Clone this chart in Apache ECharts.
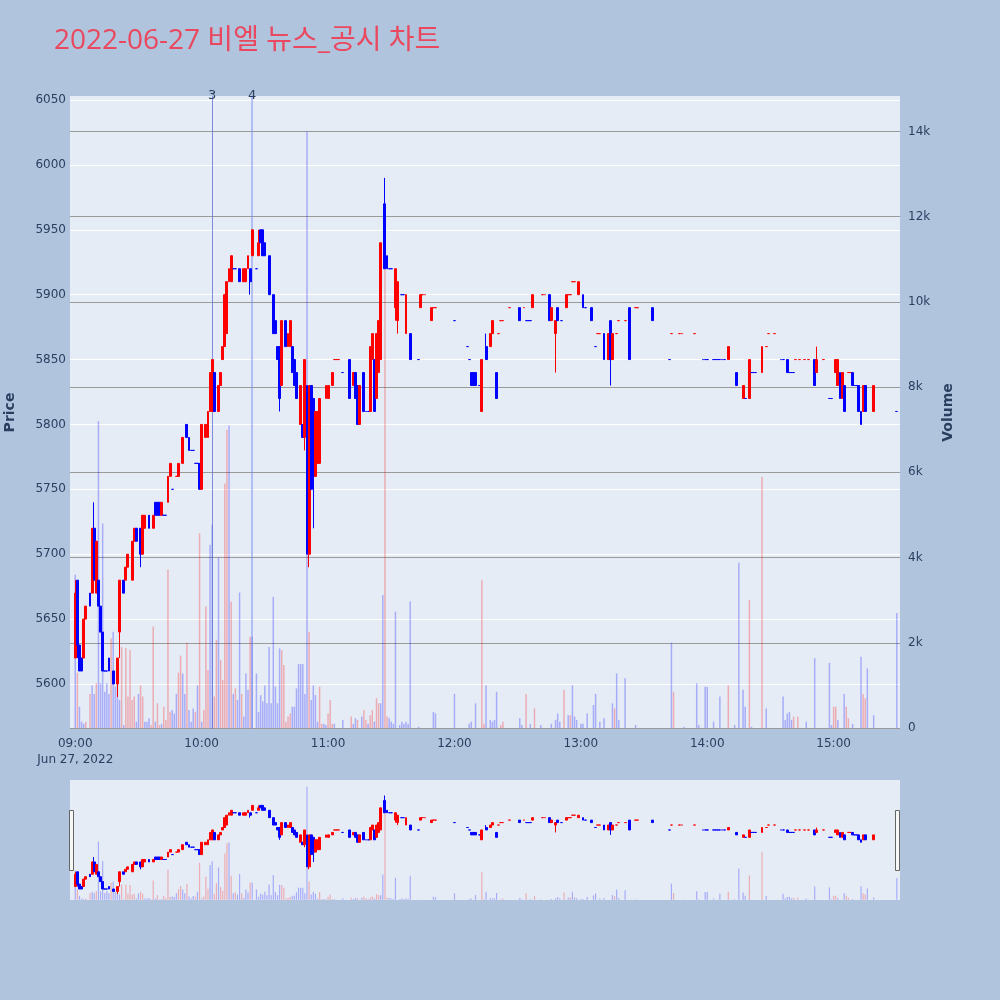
<!DOCTYPE html>
<html><head><meta charset="utf-8">
<script src="https://cdn.jsdelivr.net/npm/echarts@6/dist/echarts.min.js"></script>
<style>html,body{margin:0;padding:0;background:#b0c4de;}#c{width:1000px;height:1000px;}</style>
</head><body><div id="c"></div>
<script>
const chartTitle = '2022-06-27 비엘 뉴스_공시 차트';
const axisStart = '08:58', axisEnd = '15:31';
const priceTicks = [5600,5650,5700,5750,5800,5850,5900,5950,6000,6050];
const volTicks = [0,2000,4000,6000,8000,10000,12000,14000];
const newsTimes = ['10:05','10:24'];
const newsLabels = ['3','4'];

const candleTimes = [
'09:00','09:01','09:02','09:03','09:04','09:05','09:07','09:08','09:09','09:10','09:11','09:12','09:13','09:14','09:15','09:16','09:18','09:20','09:21','09:23','09:24','09:25','09:27','09:28','09:29','09:31','09:32','09:33','09:35','09:37','09:38','09:39','09:40','09:41','09:42','09:43','09:44','09:45','09:46','09:48','09:49','09:51','09:53','09:54','09:55','09:56','09:57','09:58','09:59',
'10:00','10:02','10:03','10:04','10:05','10:06','10:08','10:09','10:10','10:11','10:12','10:13','10:14','10:15','10:16','10:18','10:20','10:21','10:22','10:23','10:24','10:26','10:27','10:28','10:29','10:30','10:32','10:34','10:35','10:36','10:37','10:38','10:40','10:41','10:42','10:43','10:44','10:45','10:47','10:48','10:49','10:50','10:51','10:52','10:53','10:54','10:55','10:56','10:59',
'11:00','11:02','11:03','11:04','11:05','11:07','11:10','11:12','11:13','11:14','11:15','11:17','11:18','11:19','11:20','11:21','11:22','11:23','11:24','11:25','11:27','11:28','11:29','11:30','11:32','11:33','11:35','11:36','11:37','11:39','11:43','11:44','11:45','11:46','11:49','11:50','11:51',
'12:00','12:06','12:07','12:08','12:09','12:10','12:12','12:13','12:15','12:17','12:18','12:20','12:21','12:22','12:23','12:26','12:31','12:33','12:34','12:35','12:36','12:37','12:42','12:43','12:45','12:46','12:48','12:49','12:51','12:53','12:54','12:55','12:56','12:57','12:59',
'13:01','13:02','13:05','13:07','13:08','13:09','13:11','13:13','13:14','13:15','13:17','13:18','13:21','13:23','13:26','13:27','13:34','13:42','13:43','13:47','13:48','13:54','13:58','13:59',
'14:00','14:03','14:04','14:05','14:06','14:07','14:08','14:10','14:14','14:17','14:18','14:20','14:21','14:22','14:23','14:26','14:28','14:29','14:32','14:35','14:36','14:38','14:39','14:40','14:41','14:42','14:44','14:46','14:48','14:51','14:52','14:55','14:58','14:59',
'15:01','15:02','15:03','15:04','15:05','15:07','15:08','15:09','15:10','15:11','15:12','15:13','15:14','15:15','15:19','15:30'];
const candleOpen = [
5620,5680,5630,5620,5620,5650,5670,5670,5720,5670,5680,5660,5640,5610,5610,5620,5610,5600,5640,5680,5680,5690,5680,5710,5720,5720,5700,5720,5730,5720,5740,5740,5740,5730,5730,5730,5740,5760,5750,5760,5760,5770,5800,5790,5780,5780,5770,5770,5770,
5750,5790,5790,5810,5810,5840,5810,5830,5850,5860,5870,5910,5910,5920,5920,5920,5910,5910,5920,5920,5930,5920,5930,5950,5950,5940,5930,5900,5880,5860,5860,5830,5880,5860,5860,5860,5850,5840,5800,5800,5790,5830,5700,5830,5820,5760,5770,5770,5820,
5820,5830,5850,5850,5850,5840,5850,5830,5840,5830,5800,5840,5810,5810,5810,5850,5850,5820,5840,5850,5970,5930,5920,5920,5890,5880,5900,5900,5870,5870,5850,5890,5900,5900,5880,5890,5890,
5880,5860,5850,5840,5840,5840,5830,5810,5860,5860,5870,5840,5870,5880,5880,5890,5890,5890,5880,5880,5880,5890,5900,5900,5900,5880,5870,5890,5880,5890,5900,5900,5910,5910,5900,
5900,5890,5890,5860,5870,5870,5870,5850,5880,5850,5870,5880,5880,5890,5890,5890,5890,5850,5870,5870,5870,5870,5850,5850,
5850,5850,5850,5850,5850,5850,5850,5850,5840,5820,5820,5820,5840,5840,5840,5840,5860,5870,5870,5850,5850,5850,5840,5840,5840,5850,5850,5850,5850,5850,5840,5850,5820,5820,
5840,5830,5840,5820,5830,5840,5840,5840,5830,5830,5830,5810,5810,5830,5810,5810];
const candleClose = [
5670,5630,5610,5610,5650,5660,5660,5720,5680,5710,5660,5640,5610,5610,5610,5610,5600,5620,5680,5670,5690,5700,5710,5720,5710,5700,5730,5730,5720,5730,5730,5730,5730,5740,5730,5730,5760,5770,5750,5760,5770,5790,5790,5780,5780,5780,5770,5770,5750,
5800,5800,5810,5840,5850,5810,5830,5840,5860,5900,5910,5920,5930,5920,5920,5910,5920,5920,5930,5910,5950,5920,5940,5940,5930,5930,5900,5870,5870,5850,5820,5880,5860,5870,5880,5840,5830,5820,5830,5790,5850,5700,5830,5750,5760,5810,5810,5820,5830,
5830,5840,5850,5850,5850,5840,5820,5840,5820,5800,5830,5810,5810,5810,5860,5870,5810,5870,5880,5940,5920,5920,5920,5920,5920,5910,5900,5900,5900,5850,5850,5900,5900,5900,5890,5890,5890,
5880,5860,5850,5830,5830,5830,5830,5850,5850,5870,5880,5820,5870,5880,5880,5890,5880,5890,5880,5880,5880,5900,5900,5900,5880,5890,5880,5880,5880,5900,5900,5900,5910,5910,5910,
5890,5890,5880,5860,5870,5870,5850,5870,5850,5870,5870,5880,5880,5850,5890,5890,5880,5850,5870,5870,5870,5870,5850,5850,
5850,5850,5850,5850,5850,5850,5850,5860,5830,5830,5820,5850,5840,5840,5840,5860,5860,5870,5870,5850,5850,5840,5840,5840,5840,5850,5850,5850,5850,5830,5850,5850,5820,5820,
5850,5850,5820,5840,5810,5840,5840,5830,5830,5830,5810,5800,5830,5810,5830,5810];
const candleLow = [
5620,5620,5610,5610,5620,5650,5660,5670,5680,5670,5660,5640,5610,5610,5610,5610,5600,5590,5620,5670,5680,5690,5680,5710,5710,5690,5700,5720,5720,5720,5730,5730,5730,5730,5730,5730,5740,5760,5750,5760,5760,5770,5790,5780,5780,5780,5770,5770,5750,
5750,5790,5790,5810,5810,5810,5810,5830,5850,5860,5870,5910,5910,5920,5920,5910,5910,5910,5920,5900,5930,5920,5930,5940,5930,5930,5900,5870,5870,5850,5810,5830,5860,5860,5860,5840,5830,5820,5800,5790,5780,5700,5690,5750,5720,5760,5770,5770,5820,
5820,5830,5850,5850,5850,5840,5820,5830,5820,5800,5800,5810,5810,5810,5810,5850,5810,5820,5840,5850,5920,5920,5920,5920,5880,5870,5900,5900,5870,5850,5850,5890,5900,5900,5880,5890,5890,
5880,5860,5850,5830,5830,5830,5830,5810,5850,5860,5870,5820,5870,5880,5880,5890,5880,5890,5880,5880,5880,5890,5900,5900,5880,5880,5840,5880,5880,5890,5900,5900,5910,5910,5900,
5890,5890,5880,5860,5870,5870,5850,5850,5830,5850,5870,5880,5880,5850,5890,5890,5880,5850,5870,5870,5870,5870,5850,5850,
5850,5850,5850,5850,5850,5850,5850,5850,5830,5820,5820,5820,5840,5840,5840,5840,5860,5870,5870,5850,5850,5840,5840,5840,5840,5850,5850,5850,5850,5830,5840,5850,5820,5820,
5840,5830,5820,5820,5810,5840,5840,5830,5830,5830,5810,5800,5810,5810,5810,5810];
const candleHigh = [
5680,5680,5630,5620,5650,5660,5670,5720,5740,5710,5680,5660,5640,5610,5610,5620,5610,5620,5680,5680,5690,5700,5710,5720,5720,5720,5730,5730,5730,5730,5740,5740,5740,5740,5730,5730,5760,5770,5750,5760,5770,5790,5800,5790,5780,5780,5770,5770,5770,
5800,5800,5810,5840,5850,5840,5830,5840,5860,5900,5910,5920,5930,5920,5920,5920,5920,5920,5930,5920,5950,5920,5950,5950,5950,5940,5930,5900,5880,5860,5860,5880,5880,5870,5880,5860,5850,5840,5830,5800,5850,5830,5830,5830,5820,5810,5810,5820,5830,
5830,5840,5850,5850,5850,5840,5850,5840,5840,5830,5830,5840,5810,5810,5860,5870,5850,5870,5880,5940,5990,5930,5920,5920,5920,5910,5900,5900,5900,5870,5850,5900,5900,5900,5890,5890,5890,
5880,5860,5850,5840,5840,5840,5830,5850,5870,5870,5880,5840,5870,5880,5880,5890,5890,5890,5880,5880,5880,5900,5900,5900,5900,5890,5880,5890,5880,5900,5900,5900,5910,5910,5910,
5900,5890,5890,5860,5870,5870,5870,5870,5880,5870,5870,5880,5880,5890,5890,5890,5890,5850,5870,5870,5870,5870,5850,5850,
5850,5850,5850,5850,5850,5850,5850,5860,5840,5830,5820,5850,5840,5840,5840,5860,5860,5870,5870,5850,5850,5850,5840,5840,5840,5850,5850,5850,5850,5850,5860,5850,5820,5820,
5850,5850,5840,5840,5830,5840,5840,5840,5830,5830,5830,5810,5830,5830,5830,5810];

const volTimes = [
'09:00','09:01','09:02','09:03','09:04','09:05','09:07','09:08','09:09','09:10','09:11','09:12','09:13','09:14','09:15','09:16','09:17','09:18','09:19','09:20','09:21','09:22','09:23','09:24','09:25','09:26','09:27','09:28','09:29','09:30','09:31','09:32','09:33','09:34','09:35','09:36','09:37','09:38','09:39','09:40','09:41','09:42','09:43','09:44','09:45','09:46','09:47','09:48','09:49','09:50','09:51','09:52','09:53','09:54','09:55','09:56','09:57','09:58','09:59',
'10:00','10:01','10:02','10:03','10:04','10:05','10:06','10:07','10:08','10:09','10:10','10:11','10:12','10:13','10:14','10:15','10:16','10:17','10:18','10:19','10:20','10:21','10:22','10:23','10:24','10:26','10:27','10:28','10:29','10:30','10:31','10:32','10:33','10:34','10:35','10:36','10:37','10:38','10:39','10:40','10:41','10:42','10:43','10:44','10:45','10:46','10:47','10:48','10:49','10:50','10:51','10:52','10:53','10:54','10:55','10:56','10:57','10:58','10:59',
'11:00','11:01','11:02','11:03','11:07','11:11','11:12','11:13','11:14','11:16','11:17','11:18','11:19','11:20','11:21','11:22','11:23','11:24','11:25','11:26','11:27','11:28','11:29','11:30','11:31','11:32','11:34','11:35','11:36','11:37','11:38','11:39','11:43','11:50','11:51',
'12:00','12:07','12:08','12:10','12:13','12:14','12:15','12:17','12:18','12:19','12:20','12:22','12:23','12:31','12:32','12:34','12:36','12:38','12:41','12:46','12:48','12:49','12:50','12:52','12:54','12:55','12:56','12:57','12:58',
'13:00','13:01','13:03','13:06','13:07','13:09','13:11','13:15','13:16','13:17','13:18','13:21','13:26','13:43','13:44','13:49','13:55','13:56','13:59',
'14:00','14:03','14:06','14:10','14:13','14:15','14:17','14:18','14:20','14:21','14:26','14:28','14:36','14:37','14:38','14:39','14:40','14:41','14:43','14:47','14:51','14:58','14:59',
'15:00','15:01','15:02','15:05','15:06','15:07','15:09','15:13','15:14','15:15','15:16','15:19','15:30'];
const volValues = [
3600,1300,500,150,100,150,800,1000,800,1050,7200,1050,4800,850,1050,800,2100,2260,970,1500,660,1900,70,1870,740,1830,660,740,150,800,1000,740,150,150,230,70,2380,150,580,70,100,500,190,3720,380,420,340,800,1300,1700,1280,800,2000,420,150,460,380,1000,4570,
150,420,2850,1360,4300,4770,740,2070,4000,1600,1130,5740,7000,7100,2970,800,930,660,3180,800,270,1280,900,2140,2140,1280,380,770,620,1000,580,1900,580,3080,970,580,1870,1830,1480,150,270,340,500,500,930,1500,1500,1500,800,14000,2260,660,1000,770,150,970,100,100,70,
340,660,100,100,190,270,100,230,190,270,420,190,100,300,420,150,700,580,580,3120,11500,270,230,150,100,2730,70,150,100,150,100,2970,30,380,340,
800,100,150,580,3470,100,1000,190,150,190,850,70,150,230,70,800,100,460,70,100,190,340,150,900,300,300,1000,270,190,
100,100,340,540,800,150,230,580,460,1280,190,1170,70,2000,850,30,1050,70,970,
970,150,740,1000,70,3880,900,500,3000,30,5900,460,740,190,340,380,190,270,270,150,1640,1530,70,
500,500,190,800,500,230,100,1670,800,700,1400,300,2700];
// u = buy-side (red), d = sell-side (blue)
const volSides = (
'duddduuddudddddd' + 'udddduduuu' + 'uudduudddu' + 'uduuduuuud' + 'dduudduddd' + 'udu' +
'duuudduudu' + 'uuudududdu' + 'dddud' + 'ddddd' + 'ddddddduuu' + 'uudddddddd' + 'udddduudd' +
'uuudd' + 'uddud' + 'uuduu' + 'duudd' + 'uuddd' + 'ddddd' + 'ddddd' +
'ddddu' + 'udddd' + 'duudd' + 'ududd' + 'dddud' + 'uddd' +
'dddddddd' + 'u' + 'ddddd' + 'u' + 'dddd' +
'dddu' + 'dddd' + 'udud' + 'ddddd' + 'uu' + 'dddd' +
'uudduudduuddd').split('');

const RED = '#ff0000', BLUE = '#0000ff';
const FONT = 'DejaVu Sans, Noto Sans CJK KR, sans-serif';
const LABEL_COLOR = '#2a3f5f';

// category axis: one slot per minute
const categories = [];
(function(){
  const toMin = s => +s.slice(0,2)*60 + +s.slice(3,5);
  for (let m = toMin(axisStart); m <= toMin(axisEnd); m++) {
    categories.push(String(Math.floor(m/60)).padStart(2,'0') + ':' + String(m%60).padStart(2,'0'));
  }
})();
const idxOf = t => categories.indexOf(t);

const candleData = categories.map(() => '-');
let prevC = null, prevUp = true;
candleTimes.forEach((t, k) => {
  const o = candleOpen[k], c = candleClose[k];
  let up;
  if (c > o) up = true; else if (c < o) up = false;
  else up = prevC === null ? true : (c > prevC ? true : (c < prevC ? false : prevUp));
  prevC = c; prevUp = up;
  const col = up ? RED : BLUE;
  candleData[idxOf(t)] = {value: [o, c, candleLow[k], candleHigh[k]],
    itemStyle: {color: col, color0: col, borderColor: col, borderColor0: col}};
});
const volData = categories.map(() => '-');
volTimes.forEach((t, k) => {
  volData[idxOf(t)] = {value: volValues[k],
    itemStyle: {color: volSides[k] === 'u' ? 'rgba(255,0,0,0.27)' : 'rgba(0,0,255,0.27)'}};
});

const problems = [];
[candleOpen, candleClose, candleLow, candleHigh].forEach((a,i)=>{ if (a.length !== candleTimes.length) problems.push('c'+i+':'+a.length+'/'+candleTimes.length); });
if (volValues.length !== volTimes.length) problems.push('vv:'+volValues.length+'/'+volTimes.length);
if (volSides.length !== volTimes.length) problems.push('vs:'+volSides.length+'/'+volTimes.length);

const PMIN = 5565.3, PMAX = 6053.1, VMIN = -23, VMAX = 14833;

const newsStyles = [
  {color: 'rgba(90,110,210,0.75)', width: 1},
  {color: 'rgba(110,135,235,0.45)', width: 2}
];

const option = {
  backgroundColor: '#b0c4de',
  animation: false,
  textStyle: {fontFamily: FONT},
  title: {
    text: chartTitle, left: 49, top: 22,
    textStyle: {color: '#e9485e', fontSize: 28, fontWeight: 'normal', fontFamily: 'Open Sans, Noto Sans CJK KR, sans-serif'}
  },
  grid: [
    {left: 70, right: 100, top: 96, height: 633, show: true, backgroundColor: '#e5ecf6', borderWidth: 0, outerBoundsMode: 'none'},
    {left: 70, right: 100, top: 780, height: 120, show: true, backgroundColor: '#e5ecf6', borderWidth: 0, outerBoundsMode: 'none'}
  ],
  xAxis: [
    {type: 'category', gridIndex: 0, data: categories, boundaryGap: true,
     axisLine: {show: false}, axisTick: {show: false}, splitLine: {show: false},
     axisLabel: {interval: (i, v) => v.slice(3) === '00', color: LABEL_COLOR, fontSize: 12, margin: 7, lineHeight: 16,
       formatter: v => v === '09:00' ? '09:00\nJun 27, 2022' : v}},
    {type: 'category', gridIndex: 1, data: categories, boundaryGap: true, show: false}
  ],
  yAxis: [
    {type: 'value', gridIndex: 0, position: 'left', min: PMIN, max: PMAX, scale: true,
     name: 'Price', nameLocation: 'middle', nameGap: 53, nameRotate: 90,
     nameTextStyle: {color: LABEL_COLOR, fontSize: 14, fontWeight: 'bold'},
     axisLine: {show: false}, axisTick: {show: false, customValues: priceTicks},
     axisLabel: {customValues: priceTicks, color: LABEL_COLOR, fontSize: 12, margin: 4, formatter: v => String(v)},
     splitLine: {show: true, lineStyle: {color: '#ffffff', width: 1}}},
    {type: 'value', gridIndex: 0, position: 'right', min: VMIN, max: VMAX,
     name: 'Volume', nameLocation: 'middle', nameGap: 36, nameRotate: 90,
     nameTextStyle: {color: LABEL_COLOR, fontSize: 14, fontWeight: 'bold'},
     axisLine: {show: false}, axisTick: {show: false, customValues: volTicks},
     axisLabel: {customValues: volTicks, color: LABEL_COLOR, fontSize: 12, margin: 8,
       formatter: v => v === 0 ? '0' : (v/1000) + 'k'},
     splitLine: {show: true, lineStyle: {color: '#9a9a9a', width: 1}}},
    {type: 'value', gridIndex: 1, min: PMIN, max: PMAX, show: false, splitLine: {show: false}},
    {type: 'value', gridIndex: 1, min: VMIN, max: VMAX, show: false, splitLine: {show: false}}
  ],
  series: [
    {type: 'bar', name: 'vol', xAxisIndex: 0, yAxisIndex: 1, data: volData, barWidth: 1.5, z: 2, silent: true},
    {type: 'candlestick', name: 'price', xAxisIndex: 0, yAxisIndex: 0, data: candleData, barWidth: 2.4, z: 4, silent: true,
     itemStyle: {color: RED, color0: BLUE, borderColor: RED, borderColor0: BLUE, borderWidth: 1},
     markLine: {symbol: 'none', silent: true, animation: false, z: 3,
       label: {show: true, position: 'end', color: LABEL_COLOR, fontSize: 13, distance: -6, fontFamily: FONT},
       data: newsTimes.map((t, k) => ({xAxis: t, label: {formatter: newsLabels[k]},
         lineStyle: {type: 'solid', color: newsStyles[k].color, width: newsStyles[k].width}}))}},
    {type: 'bar', name: 'vol2', xAxisIndex: 1, yAxisIndex: 3, data: volData, barWidth: 1.2, z: 2, silent: true},
    {type: 'candlestick', name: 'price2', xAxisIndex: 1, yAxisIndex: 2, data: candleData, barWidth: 2.4, z: 4, silent: true,
     itemStyle: {color: RED, color0: BLUE, borderColor: RED, borderColor0: BLUE, borderWidth: 1}}
  ],
  graphic: [
    {type: 'rect', shape: {x: 69.5, y: 810.5, width: 4, height: 60}, style: {fill: '#f6f6f6', stroke: '#666', lineWidth: 1}, z: 100},
    {type: 'rect', shape: {x: 895.5, y: 810.5, width: 4, height: 60}, style: {fill: '#f6f6f6', stroke: '#666', lineWidth: 1}, z: 100}
  ].concat(problems.length ? [{type: 'text', left: 10, top: 960, style: {text: problems.join(' '), fill: '#000', fontSize: 14}}] : [])
};

const chart = echarts.init(document.getElementById('c'), null, {renderer: 'canvas', width: 1000, height: 1000});
chart.setOption(option);
</script>
</body></html>
